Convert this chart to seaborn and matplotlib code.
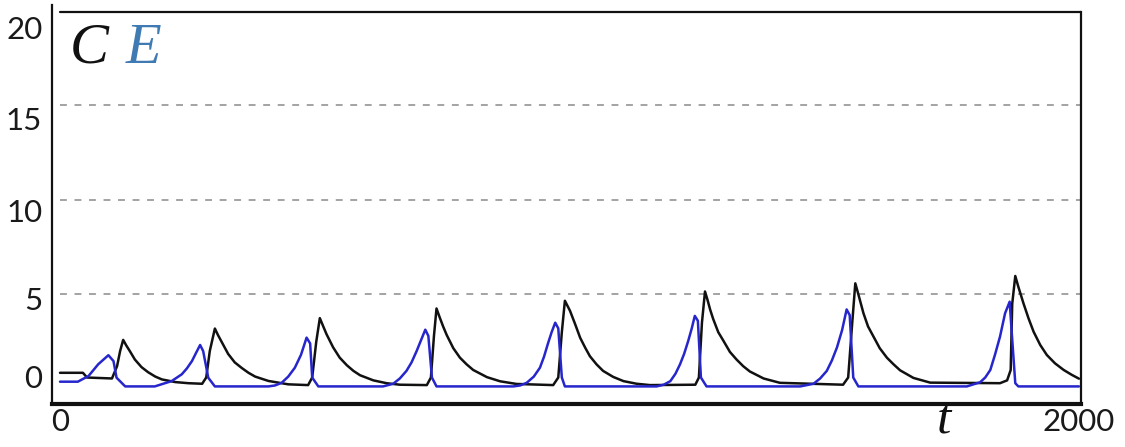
import matplotlib
matplotlib.use("Agg")
import matplotlib.pyplot as plt
import seaborn as sns
import pandas as pd

# Time samples and values of the C (black) series
c_time = [0, 45, 53, 102, 112, 118, 124, 130, 137, 147, 160, 173, 187, 200, 226, 252, 279,
          287, 294, 304, 310, 318, 330, 343, 357, 370, 383, 409, 448, 487,
          495, 503, 510, 516, 523, 536, 549, 563, 576, 589, 615, 641, 667, 720,
          728, 734, 739, 745, 752, 759, 772, 785, 798, 811, 838, 864, 896, 968,
          978, 985, 991, 1001, 1011, 1021, 1031, 1040, 1053, 1066, 1086, 1106, 1132, 1158, 1247,
          1254, 1260, 1266, 1271, 1276, 1282, 1292, 1302, 1315, 1328, 1341, 1354, 1381, 1413, 1537,
          1547, 1555, 1561, 1566, 1571, 1577, 1586, 1596, 1609, 1623, 1636, 1649, 1675, 1708, 1845,
          1859, 1866, 1869, 1875, 1881, 1891, 1901, 1911, 1924, 1937, 1953, 1970, 1986, 2000]
c_value = [0.85, 0.85, 0.6, 0.55, 1.2, 2.0, 2.59, 2.3, 2.0, 1.55, 1.15, 0.88, 0.65, 0.5, 0.36, 0.3, 0.27,
           0.6, 2.0, 3.19, 2.85, 2.45, 1.85, 1.4, 1.1, 0.85, 0.65, 0.42, 0.24, 0.2,
           0.6, 2.5, 3.74, 3.35, 2.9, 2.2, 1.65, 1.25, 0.95, 0.72, 0.45, 0.3, 0.22, 0.2,
           0.6, 2.8, 4.25, 3.8, 3.3, 2.85, 2.15, 1.65, 1.3, 1.0, 0.62, 0.4, 0.26, 0.2,
           0.6, 3.0, 4.66, 4.13, 3.43, 2.7, 2.17, 1.73, 1.3, 0.95, 0.63, 0.41, 0.27, 0.2, 0.22,
           0.6, 3.5, 5.15, 4.7, 4.2, 3.7, 3.0, 2.55, 1.95, 1.55, 1.2, 0.92, 0.55, 0.32, 0.22,
           0.6, 3.5, 5.58, 5.1, 4.6, 4.0, 3.3, 2.8, 2.15, 1.65, 1.3, 0.98, 0.58, 0.33, 0.3,
           0.45, 1.0, 4.5, 5.97, 5.4, 4.53, 3.73, 3.02, 2.32, 1.79, 1.35, 1.0, 0.74, 0.54]

# Time samples and values of the E (blue) series
e_time = [0, 35, 56, 75, 95, 105, 111, 128, 186, 219, 239, 249, 259, 267, 275, 281, 291, 304,
          409, 422, 435, 448, 461, 473, 484, 491, 495, 507, 634, 654, 667, 680, 690, 700, 709,
          717, 723, 730, 739, 890, 903, 916, 930, 942, 950, 958, 965, 972, 978, 985, 991,
          1171, 1185, 1198, 1208, 1217, 1225, 1233, 1240, 1246, 1252, 1258, 1269,
          1453, 1479, 1492, 1505, 1515, 1525, 1535, 1544, 1550, 1557, 1567,
          1780, 1806, 1816, 1826, 1835, 1845, 1855, 1864, 1868, 1875, 1881, 2000]
e_value = [0.38, 0.38, 0.68, 1.3, 1.78, 1.47, 0.59, 0.13, 0.13, 0.41, 0.77, 1.08, 1.47, 1.9, 2.32, 2.0, 0.59, 0.13,
           0.13, 0.18, 0.32, 0.65, 1.12, 1.8, 2.71, 2.4, 0.6, 0.13, 0.13, 0.27, 0.55, 0.95, 1.4, 2.0, 2.6,
           3.13, 2.8, 0.6, 0.13, 0.13, 0.18, 0.32, 0.65, 1.12, 1.7, 2.42, 3.0, 3.5, 3.2, 0.6, 0.13,
           0.13, 0.22, 0.41, 0.8, 1.3, 1.85, 2.53, 3.2, 3.86, 3.6, 0.6, 0.13,
           0.13, 0.27, 0.55, 0.95, 1.5, 2.19, 3.1, 4.2, 3.9, 0.6, 0.13,
           0.13, 0.35, 0.6, 1.0, 1.79, 2.76, 4.0, 4.61, 3.0, 0.3, 0.13, 0.13]

grid_levels = [5, 10, 15]
ytick_labels = ["0", "5", "10", "15", "20"]
ytick_pos = [0.63, 4.79, 9.42, 14.3, 19.09]
xtick_vals = [0, 2000]
xtick_labels = ["0", "2000"]

sns.set_theme(style="white")
plt.rcParams["font.family"] = ["Lato", "DejaVu Sans"]

fig = plt.figure(figsize=(11.25, 4.47), dpi=100)
ax = fig.add_axes([52 / 1125, 1 - 404 / 447, 1029 / 1125, 399 / 447])

df_c = pd.DataFrame({"t": c_time, "v": c_value})
df_e = pd.DataFrame({"t": e_time, "v": e_value})

for lvl in grid_levels:
    ax.plot([0, 2003], [lvl, lvl], color="#8a8a8a", lw=1.1, dashes=(4.5, 5), zorder=1)

sns.lineplot(data=df_c, x="t", y="v", ax=ax, color="#111111", lw=1.8, zorder=3)
sns.lineplot(data=df_e, x="t", y="v", ax=ax, color="#2626cc", lw=1.8, zorder=4)

ax.set_xlim(-15.7, 2004)
ax.set_ylim(-0.8, 20.3)

ax.set_yticks(ytick_pos)
ax.set_yticklabels(ytick_labels, fontsize=22.5, color="#1a1a1a")
ax.set_xticks(xtick_vals)
ax.set_xticklabels(xtick_labels, fontsize=22.5, color="#1a1a1a")
ax.tick_params(axis="both", length=0)
ax.tick_params(axis="y", pad=7)
ax.tick_params(axis="x", pad=3)
ax.set_xlabel("")
ax.set_ylabel("")

# frame: open top-left corner, heavier bottom rule
ax.spines["top"].set_visible(False)
ax.axhline(19.93, xmin=8 / 1029, xmax=1.0, color="#111111", lw=1.6, zorder=5)
ax.spines["right"].set_bounds(-0.8, 19.93)
for side, lw in (("left", 1.6), ("right", 1.6), ("bottom", 3.0)):
    ax.spines[side].set_color("#111111")
    ax.spines[side].set_linewidth(lw)

ax.text(0.017, 0.955, "C", transform=ax.transAxes, fontsize=42, style="italic",
        family="Liberation Serif", color="#111111", va="top", ha="left")
ax.text(0.072, 0.955, "E", transform=ax.transAxes, fontsize=42, style="italic",
        family="Liberation Serif", color="#3f7ab3", va="top", ha="left")
ax.text(0.8665, -0.075, "t", transform=ax.transAxes, fontsize=37, style="italic",
        family="Liberation Serif", color="#111111", va="baseline", ha="center")

fig.savefig("out.png", dpi=100)
